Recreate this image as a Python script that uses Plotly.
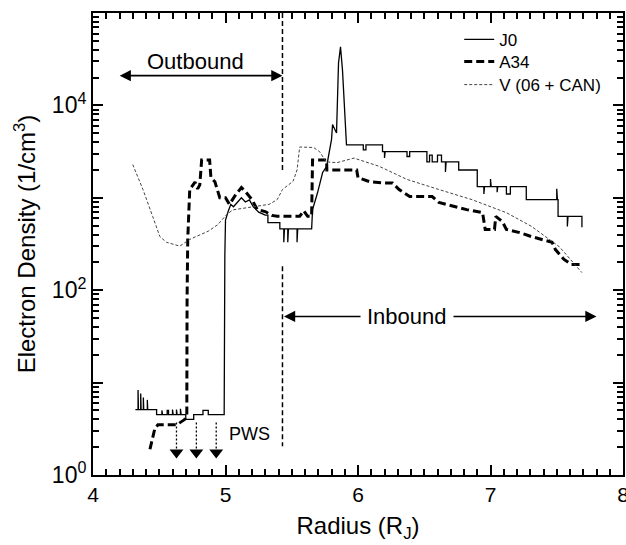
import math
import plotly.graph_objects as go

# ---------------- data ----------------
j0_r = [4.32, 4.34, 4.34, 4.343, 4.36, 4.36, 4.363, 4.38, 4.38, 4.383, 4.41, 4.41, 4.413,
        4.48, 4.48, 4.52, 4.52, 4.525, 4.56, 4.56, 4.57, 4.57, 4.60, 4.60, 4.605, 4.63, 4.63,
        4.635, 4.66, 4.66, 4.665, 4.70, 4.70, 4.76, 4.76, 4.83, 4.83, 4.87, 4.87, 4.985,
        4.99, 4.995, 5.00, 5.02, 5.04, 5.06, 5.09, 5.12, 5.15, 5.18, 5.21, 5.25, 5.30, 5.32,
        5.32, 5.41, 5.41, 5.44, 5.44, 5.445, 5.47, 5.47, 5.475, 5.54, 5.54, 5.545, 5.65,
        5.657, 5.695, 5.733, 5.763, 5.80, 5.808, 5.838, 5.853, 5.868, 5.883, 5.898, 5.913,
        6.04, 6.04, 6.06, 6.06, 6.185, 6.185, 6.20, 6.20, 6.205, 6.37, 6.37, 6.39, 6.39,
        6.52, 6.52, 6.54, 6.54, 6.56, 6.56, 6.60, 6.60, 6.63, 6.63, 6.66, 6.66, 6.665,
        6.76, 6.76, 6.90, 6.90, 6.95, 6.95, 6.955, 7.00, 7.00, 7.005, 7.05, 7.05, 7.055,
        7.12, 7.12, 7.15, 7.15, 7.27, 7.27, 7.50, 7.50, 7.505, 7.51, 7.51, 7.58, 7.58,
        7.585, 7.69, 7.69]
j0_n = [5.1, 5.1, 8.3, 5.1, 5.1, 7.6, 5.1, 5.1, 6.9, 5.1, 5.1, 6.5, 5.1,
        5.1, 4.5, 4.5, 5.0, 4.5, 4.5, 5.0, 5.0, 4.5, 4.5, 5.1, 4.5, 4.5, 5.1,
        4.5, 4.5, 5.2, 4.5, 4.5, 4.0, 4.0, 4.5, 4.5, 5.0, 5.0, 4.5, 4.5,
        4.5, 234, 575, 710, 850, 800, 900, 1000, 900, 950, 800, 700, 650, 650,
        540, 540, 460, 460, 330, 460, 460, 330, 460, 460, 330, 460, 460,
        745, 1140, 1880, 2170, 4270, 6200, 5030, 28800, 43000, 24000, 9600, 3740,
        3740, 3300, 3300, 3740, 3740, 3160, 3160, 2700, 3160, 3160, 2800, 2800, 3160,
        3160, 2450, 2450, 2900, 2900, 2450, 2450, 2900, 2900, 2450, 2450, 1900, 2450,
        2450, 2000, 2000, 1320, 1320, 1100, 1320, 1320, 1600, 1320, 1320, 1150, 1320,
        1320, 1100, 1100, 1320, 1320, 955, 955, 1250, 955, 955, 630, 630, 490,
        630, 630, 480]

a34_r = [4.43, 4.467, 4.49, 4.633, 4.693, 4.708, 4.71, 4.715, 4.73, 4.75, 4.77, 4.79,
         4.806, 4.82, 4.88, 4.89, 4.92, 4.957, 5.00, 5.03, 5.077, 5.12, 5.15, 5.20, 5.24,
         5.30, 5.35, 5.39, 5.56, 5.59, 5.62, 5.65, 5.657, 5.763, 5.765, 5.99, 6.00, 6.09,
         6.18, 6.26, 6.31, 6.39, 6.56, 6.61, 6.82, 6.94, 6.96, 7.03, 7.04, 7.09, 7.12,
         7.22, 7.31, 7.465, 7.49, 7.555, 7.61, 7.70]
a34_n = [1.9, 3.2, 3.5, 3.5, 4.0, 4.5, 80, 355, 1230, 1350, 1480, 1250,
         1380, 2570, 2570, 1650, 1490, 1000, 1000, 850, 1080, 1290, 1170, 955, 745,
         710, 645, 630, 630, 725, 630, 630, 2570, 2570, 2000, 2000, 1650, 1490,
         1450, 1450, 1230, 1030, 1030, 890, 745, 690, 455, 455, 630, 550, 455,
         420, 380, 330, 275, 215, 190, 190]

v_r = [4.30, 4.377, 4.45, 4.505, 4.555, 4.655, 4.73, 4.806, 4.87, 4.94, 5.01, 5.055,
       5.205, 5.33, 5.39, 5.43, 5.51, 5.54, 5.56, 5.635, 5.665, 5.71, 5.76, 5.84, 5.92,
       5.97, 6.16, 6.37, 6.61, 6.86, 7.12, 7.31, 7.52, 7.69]
v_n = [2290, 1230, 630, 380, 330, 300, 355, 400, 435, 510, 660, 740,
       790, 850, 955, 1230, 1510, 2000, 3550, 3550, 3500, 3160, 2450, 2400, 2570,
       2690, 2190, 1580, 1230, 955, 690, 490, 295, 155]

series_names = ["J0", "A34", "V (06 + CAN)"]

# annotation values
boundary_r = 5.43
boundary_upper = [1e5, 2000]
boundary_lower = [182, 2.05]
outbound_span = [4.19, 5.43]
outbound_level = 2.1e4
inbound_span = [5.43, 7.80]
inbound_level = 52
pws_r = [4.63, 4.78, 4.93]
pws_top = 3.7
pws_tip = 1.75

x_range = [4, 8]
y_range_log = [0, 5]
y_tick_vals = [1, 10, 100, 1000, 10000, 100000]
y_tick_text = ["10<sup>0</sup>", " ", "10<sup>2</sup>", " ", "10<sup>4</sup>", " "]
x_tick_vals = [4, 5, 6, 7, 8]

FONT = "Liberation Sans, Arial, Helvetica, sans-serif"

fig = go.Figure()
fig.add_trace(go.Scatter(x=j0_r, y=j0_n, mode="lines", name=series_names[0],
                         legend="legend", line=dict(color="black", width=1.3)))
fig.add_trace(go.Scatter(x=a34_r, y=a34_n, mode="lines", name=series_names[1],
                         legend="legend2", line=dict(color="black", width=3, dash="8px,4px")))
fig.add_trace(go.Scatter(x=v_r, y=v_n, mode="lines", name=series_names[2],
                         legend="legend3", line=dict(color="#444444", width=1, dash="3px,2px")))

for seg in (boundary_upper, boundary_lower):
    fig.add_trace(go.Scatter(x=[boundary_r, boundary_r], y=seg, mode="lines",
                             showlegend=False, hoverinfo="skip",
                             line=dict(color="black", width=1.5, dash="5px,3px")))

for r in pws_r:
    fig.add_trace(go.Scatter(x=[r, r], y=[pws_top, pws_tip], mode="lines",
                             showlegend=False, hoverinfo="skip",
                             line=dict(color="black", width=1.3, dash="2px,2px")))
fig.add_trace(go.Scatter(x=pws_r, y=[pws_tip] * len(pws_r), mode="markers",
                         showlegend=False, hoverinfo="skip",
                         marker=dict(symbol="triangle-down", size=12, color="black")))

L = math.log10
annots = [
    dict(x=outbound_span[1], y=L(outbound_level), ax=outbound_span[0], ay=L(outbound_level),
         xref="x", yref="y", axref="x", ayref="y", text="", showarrow=True,
         arrowhead=2, startarrowhead=2, arrowside="end+start", arrowsize=1.4,
         arrowwidth=1.6, arrowcolor="black"),
    dict(x=4.77, y=4.47, xref="x", yref="y", text="Outbound", showarrow=False,
         font=dict(size=22, color="black", family=FONT)),
    dict(x=inbound_span[1], y=L(inbound_level), ax=inbound_span[0], ay=L(inbound_level),
         xref="x", yref="y", axref="x", ayref="y", text="", showarrow=True,
         arrowhead=2, startarrowhead=2, arrowside="end+start", arrowsize=1.4,
         arrowwidth=1.6, arrowcolor="black"),
    dict(x=6.37, y=L(inbound_level), xref="x", yref="y", text="Inbound", showarrow=False,
         bgcolor="white", borderpad=6,
         font=dict(size=22, color="black", family=FONT)),
    dict(x=5.01, y=0.44, xref="x", yref="y", text="PWS", showarrow=False,
         xanchor="left", font=dict(size=18, color="black", family=FONT)),
]

# minor tick positions (major positions included so every decade / unit gets a mark)
minor_y = [k * 10 ** d for d in range(5) for k in range(1, 10)] + [100000]
minor_x = [round(4 + 0.1 * i, 1) for i in range(41)]

leg_common = dict(x=0.691, xanchor="left", yanchor="middle", bgcolor="rgba(0,0,0,0)",
                  font=dict(size=17, family=FONT, color="black"), itemwidth=30)

tick_style = dict(ticks="inside", ticklen=10, tickwidth=2, tickcolor="black",
                  mirror="allticks", showgrid=False, zeroline=False, automargin=False)

fig.update_layout(
    template="none",
    width=626, height=545,
    margin=dict(l=93, r=3, t=13, b=70, autoexpand=False),
    paper_bgcolor="white", plot_bgcolor="white",
    font=dict(family=FONT, color="black", size=20),
    annotations=annots,
    showlegend=True,
    legend=dict(y=0.942, **leg_common),
    legend2=dict(y=0.894, **leg_common),
    legend3=dict(y=0.844, **leg_common),
    xaxis=dict(range=x_range, tickmode="array", tickvals=x_tick_vals,
               showline=True, linewidth=2, linecolor="black",
               tickfont=dict(size=21), ticklabeloverflow="allow",
               minor=dict(tickmode="array", tickvals=minor_x, ticks="inside", ticklen=6,
                          tickwidth=2, tickcolor="black", showgrid=False),
               title=dict(text="Radius (R<sub>J</sub>)", font=dict(size=24), standoff=12),
               **tick_style),
    yaxis=dict(type="log", range=y_range_log, tickmode="array", tickvals=y_tick_vals,
               ticktext=y_tick_text, showline=True, linewidth=2, linecolor="black",
               tickfont=dict(size=23),
               minor=dict(tickmode="array", tickvals=minor_y, ticks="inside", ticklen=6,
                          tickwidth=2, tickcolor="black", showgrid=False),
               title=dict(text="Electron Density (1/cm<sup>3</sup>)", font=dict(size=24),
                          standoff=9),
               **tick_style),
)

fig.write_html("out.html", config={"displayModeBar": False},
               post_script="document.body.style.margin='0px';")
